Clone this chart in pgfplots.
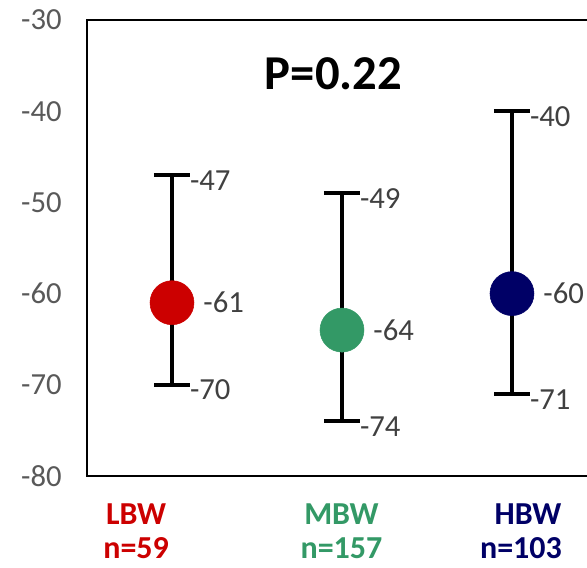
\documentclass[border=0pt]{standalone}
\usepackage{pgfplots}
\pgfplotsset{compat=1.18}
\usepackage{fontspec}
\setmainfont{Carlito}
\definecolor{lbw}{HTML}{CC0000}
\definecolor{mbw}{HTML}{339966}
\definecolor{hbw}{HTML}{000066}
\definecolor{ticktxt}{HTML}{595959}
\definecolor{valtxt}{HTML}{404040}
\begin{document}
\begin{tikzpicture}
\begin{axis}[
    at={(0,0)}, anchor=south west,
    width=382.5pt, height=342pt, scale only axis,
    xmin=0.5, xmax=3.5, ymin=-80, ymax=-30,
    ytick={-80,-70,...,-30}, xtick=\empty,
    major tick length=0pt,
    axis line style={line width=1.5pt},
    clip=false,
    tick label style={font=\fontsize{23}{27}\selectfont, text=ticktxt},
    yticklabel style={xshift=-15.5pt},
    /pgf/number format/assume math mode=true,
]
% whiskers
\addplot[draw=none, mark=none,
    error bars/.cd, y dir=both, y explicit,
    error bar style={draw=black, line width=3pt},
    error mark options={draw=black, rotate=90, mark size=13.5pt, line width=3pt}]
    coordinates {
    (1,-61) += (0,14) -= (0,9)
    (2,-64) += (0,15) -= (0,10)
    (3,-60) += (0,20) -= (0,11)
    };
% means
\addplot[only marks, mark=*, mark size=16.5pt, color=lbw] coordinates {(1,-61)};
\addplot[only marks, mark=*, mark size=16.5pt, color=mbw] coordinates {(2,-64)};
\addplot[only marks, mark=*, mark size=16.5pt, color=hbw] coordinates {(3,-60)};
% value labels at whisker ends
\addplot[only marks, mark=none, nodes near coords, point meta=explicit symbolic,
    nodes near coords style={anchor=west, xshift=10pt, yshift=-4pt,
        font=\fontsize{23}{27}\selectfont, text=valtxt}]
    coordinates {
    (1,-47) [-47] (2,-49) [-49] (3,-40) [-40]
    (1,-70) [-70] (2,-74) [-74] (3,-71) [-71]
    };
% value labels at means
\addplot[only marks, mark=none, nodes near coords, point meta=explicit symbolic,
    nodes near coords style={anchor=west, xshift=20pt,
        font=\fontsize{23}{27}\selectfont, text=valtxt}]
    coordinates {(1,-61) [-61] (2,-64) [-64] (3,-60) [-60]};
\node[font=\bfseries\fontsize{36.5}{42}\selectfont] at (axis cs:1.95,-35.9) {P=0.22};
\node[font=\bfseries\fontsize{24}{29}\selectfont, text=lbw] at (axis cs:0.789,-84.2) {LBW};
\node[font=\bfseries\fontsize{24}{29}\selectfont, text=lbw, inner sep=0pt] at (axis cs:0.789,-87.9) {n=59};
\node[font=\bfseries\fontsize{24}{29}\selectfont, text=mbw] at (axis cs:1.997,-84.2) {MBW};
\node[font=\bfseries\fontsize{24}{29}\selectfont, text=mbw, inner sep=0pt] at (axis cs:1.997,-87.9) {n=157};
\node[font=\bfseries\fontsize{24}{29}\selectfont, text=hbw] at (axis cs:3.094,-84.2) {HBW};
\node[font=\bfseries\fontsize{24}{29}\selectfont, text=hbw, inner sep=0pt] at (axis cs:3.053,-87.9) {n=103};
\end{axis}
\pgfresetboundingbox
\useasboundingbox (-65.25pt,-69pt) rectangle (375pt,357pt);
\end{tikzpicture}
\end{document}
